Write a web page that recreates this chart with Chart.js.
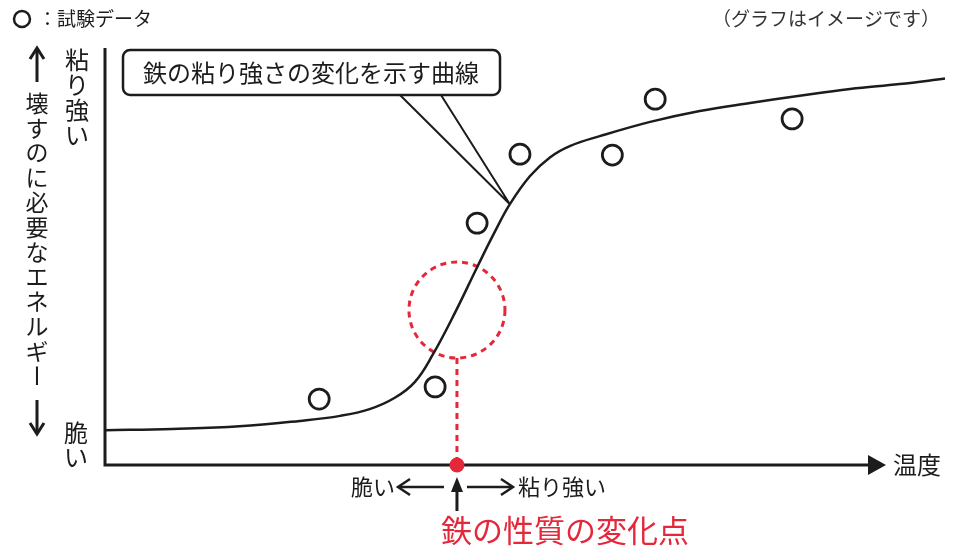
<!DOCTYPE html>
<html lang="ja">
<head>
<meta charset="utf-8">
<title>鉄の粘り強さの変化</title>
<script src="https://cdn.jsdelivr.net/npm/chart.js@4/dist/chart.umd.min.js"></script>
<style>
    html, body { margin: 0; padding: 0; background: #fff; }
    #wrap { width: 962px; height: 548px; }
</style>
</head>
<body>
<div id="wrap"><canvas id="chart" width="962" height="548"></canvas></div>
<script>
// 曲線（温度 → 壊すのに必要なエネルギー）
const curveTemps  = [0, 8, 16, 23.2, 28, 31.5, 34.5, 36.9, 39, 41.7, 44.3, 46.4, 48.2, 50.6, 53, 55.4, 58.9, 64.9, 70.8, 76.8, 82.7, 88.7, 94.6, 100];
const curveEnergy = [8.3, 8.6, 9.2, 10.5, 11.7, 13.3, 16, 19.8, 26.2, 36.4, 47.1, 55.5, 62.1, 68.8, 73.3, 76, 78.3, 81.7, 84.3, 86.2, 87.9, 89.5, 90.7, 92];

// 試験データ
const testTemps  = [25.5, 39.3, 44.3, 49.4, 60.4, 65.5, 81.8];
const testEnergy = [15.7, 18.6, 57.6, 74.0, 73.8, 87.1, 82.4];

// 鉄の性質の変化点
const changePointTemp = 41.9;
const changePointEnergy = 36.9;

const FONT = '"Noto Sans CJK JP", "Noto Sans", sans-serif';
const RED = '#e4283a';
const INK = '#1c1c1c';

const curveData = curveTemps.map((t, i) => ({ x: t, y: curveEnergy[i] }));
const testData = testTemps.map((t, i) => ({ x: t, y: testEnergy[i] }));

// 縦書きの文字列
const drawVertical = (ctx, text, x, y, step) => {
    [...text].forEach((ch, i) => {
        const cy = y + i * step;
        if (ch === 'ー') {
            ctx.save();
            ctx.translate(x, cy);
            ctx.rotate(Math.PI / 2);
            ctx.fillText(ch, 0, 0);
            ctx.restore();
        } else {
            ctx.fillText(ch, x, cy);
        }
    });
};

const arrowHead = (ctx, x, y, dir, len, half) => {
    // dir: 'up' | 'down' | 'left' | 'right' (open chevron)
    ctx.beginPath();
    if (dir === 'up')    { ctx.moveTo(x - half, y + len); ctx.lineTo(x, y); ctx.lineTo(x + half, y + len); }
    if (dir === 'down')  { ctx.moveTo(x - half, y - len); ctx.lineTo(x, y); ctx.lineTo(x + half, y - len); }
    if (dir === 'left')  { ctx.moveTo(x + len, y - half); ctx.lineTo(x, y); ctx.lineTo(x + len, y + half); }
    if (dir === 'right') { ctx.moveTo(x - len, y - half); ctx.lineTo(x, y); ctx.lineTo(x - len, y + half); }
    ctx.stroke();
};

const decorations = {
    id: 'decorations',
    beforeDatasetsDraw(chart) {
        const { ctx, scales: { x, y } } = chart;
        const x0 = x.getPixelForValue(0);
        const y0 = y.getPixelForValue(0);
        ctx.save();

        // 軸
        ctx.strokeStyle = INK;
        ctx.lineWidth = 3;
        ctx.beginPath();
        ctx.moveTo(x0, 48);
        ctx.lineTo(x0, y0);
        ctx.lineTo(870, y0);
        ctx.stroke();
        ctx.fillStyle = INK;
        ctx.beginPath();
        ctx.moveTo(868, y0 - 10);
        ctx.lineTo(886, y0);
        ctx.lineTo(868, y0 + 10);
        ctx.closePath();
        ctx.fill();

        // 変化点の破線
        const cx = x.getPixelForValue(changePointTemp);
        const cy = y.getPixelForValue(changePointEnergy);
        const r = 48;
        ctx.strokeStyle = RED;
        ctx.lineWidth = 3;
        ctx.setLineDash([6, 5]);
        ctx.beginPath();
        ctx.arc(cx, cy, r, 0, Math.PI * 2);
        ctx.stroke();
        ctx.beginPath();
        ctx.moveTo(cx, cy + r);
        ctx.lineTo(cx, y0);
        ctx.stroke();
        ctx.restore();
    },
    afterDraw(chart) {
        const { ctx, scales: { x, y } } = chart;
        const y0 = y.getPixelForValue(0);
        const cx = x.getPixelForValue(changePointTemp);
        ctx.save();

        // 吹き出し
        const tipX = x.getPixelForValue(48.2), tipY = y.getPixelForValue(62.1);
        ctx.strokeStyle = INK;
        ctx.lineWidth = 2;
        ctx.beginPath();
        ctx.moveTo(400, 95); ctx.lineTo(tipX, tipY);
        ctx.moveTo(441, 95); ctx.lineTo(tipX, tipY);
        ctx.stroke();
        ctx.fillStyle = '#fff';
        ctx.lineWidth = 2.5;
        ctx.beginPath();
        ctx.roundRect(123, 50, 377, 45, 7);
        ctx.fill();
        ctx.stroke();

        ctx.fillStyle = INK;
        ctx.textAlign = 'center';
        ctx.textBaseline = 'middle';
        ctx.font = `24px ${FONT}`;
        ctx.fillText('鉄の粘り強さの変化を示す曲線', 311, 73);

        // 凡例・注記
        ctx.lineWidth = 2.5;
        ctx.beginPath();
        ctx.arc(22, 19, 8, 0, Math.PI * 2);
        ctx.stroke();
        ctx.textAlign = 'left';
        ctx.font = `19px ${FONT}`;
        ctx.fillText('：試験データ', 38, 19);
        ctx.fillStyle = '#333';
        ctx.font = `19px ${FONT}`;
        ctx.fillText('（グラフはイメージです）', 712, 19);

        // 縦軸ラベル
        ctx.fillStyle = INK;
        ctx.textAlign = 'center';
        ctx.font = `24px ${FONT}`;
        drawVertical(ctx, '粘り強い', 77, 60, 25);
        drawVertical(ctx, '脆い', 76, 433, 24);
        ctx.font = `23px ${FONT}`;
        drawVertical(ctx, '壊すのに必要なエネルギー', 37, 103, 24.8);

        ctx.lineWidth = 3;
        ctx.beginPath();
        ctx.moveTo(37, 82); ctx.lineTo(37, 50);
        ctx.moveTo(37, 400); ctx.lineTo(37, 432);
        ctx.stroke();
        arrowHead(ctx, 37, 48, 'up', 11, 7);
        arrowHead(ctx, 37, 434, 'down', 11, 7);

        // 横軸ラベル
        ctx.textAlign = 'left';
        ctx.font = `24px ${FONT}`;
        ctx.fillText('温度', 893, y0);

        ctx.font = `22px ${FONT}`;
        ctx.textAlign = 'right';
        ctx.fillText('脆い', 395, 487);
        ctx.textAlign = 'left';
        ctx.fillText('粘り強い', 518, 487);

        ctx.lineWidth = 2.5;
        ctx.beginPath();
        ctx.moveTo(444, 487); ctx.lineTo(399, 487);
        ctx.moveTo(467, 487); ctx.lineTo(512, 487);
        ctx.stroke();
        arrowHead(ctx, 398, 487, 'left', 12, 8);
        arrowHead(ctx, 513, 487, 'right', 12, 8);

        // 変化点の矢印
        ctx.lineWidth = 3;
        ctx.beginPath();
        ctx.moveTo(cx, 511); ctx.lineTo(cx, 488);
        ctx.stroke();
        ctx.beginPath();
        ctx.moveTo(cx - 6, 492); ctx.lineTo(cx, 477); ctx.lineTo(cx + 6, 492);
        ctx.closePath();
        ctx.fill();

        ctx.fillStyle = RED;
        ctx.font = `31px ${FONT}`;
        ctx.textAlign = 'left';
        ctx.fillText('鉄の性質の変化点', 441, 530);
        ctx.restore();
    }
};

new Chart(document.getElementById('chart'), {
    type: 'scatter',
    data: {
        datasets: [
            {
                type: 'line',
                label: '鉄の粘り強さの変化を示す曲線',
                data: curveData,
                borderColor: INK,
                borderWidth: 2.5,
                pointRadius: 0,
                tension: 0.4,
                fill: false,
                clip: false
            },
            {
                label: '試験データ',
                data: testData,
                pointRadius: 10,
                pointBorderWidth: 2.8,
                borderColor: INK,
                backgroundColor: '#fff',
                clip: false
            },
            {
                label: '鉄の性質の変化点',
                data: [{ x: changePointTemp, y: 0 }],
                pointRadius: 7.5,
                pointBorderWidth: 0,
                backgroundColor: RED,
                borderColor: RED,
                clip: false
            }
        ]
    },
    options: {
        responsive: false,
        animation: false,
        events: [],
        layout: { padding: { left: 105, right: 17, top: 45, bottom: 83 } },
        scales: {
            x: { type: 'linear', min: 0, max: 100, display: false },
            y: { type: 'linear', min: 0, max: 100, display: false }
        },
        plugins: {
            legend: { display: false },
            tooltip: { enabled: false }
        }
    },
    plugins: [decorations]
});
</script>
</body>
</html>
